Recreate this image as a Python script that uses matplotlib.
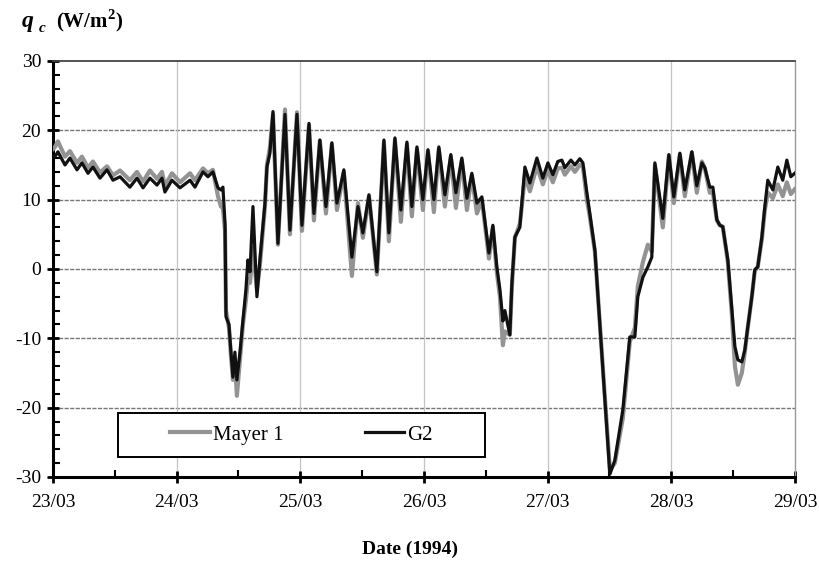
import matplotlib
matplotlib.use("Agg")
import matplotlib.pyplot as plt
from matplotlib.ticker import MultipleLocator
from matplotlib.patches import Rectangle
import numpy as np

plt.rcParams['font.family'] = ['Liberation Serif', 'DejaVu Serif']
plt.rcParams['axes.unicode_minus'] = False
plt.rcParams['mathtext.fontset'] = 'custom'
plt.rcParams['mathtext.rm'] = 'Liberation Serif'
plt.rcParams['mathtext.bf'] = 'Liberation Serif:bold'

# time in days since 23/03/1994 00:00
t = [0.000, 0.016, 0.040, 0.097, 0.137, 0.194, 0.234, 0.283, 0.323, 0.380,
     0.437, 0.485, 0.542, 0.622, 0.679, 0.728, 0.784, 0.841, 0.881, 0.905,
     0.962, 1.027, 1.108, 1.148, 1.213, 1.253, 1.293, 1.334, 1.358, 1.374,
     1.391, 1.399, 1.423, 1.439, 1.455, 1.471, 1.487, 1.512, 1.536, 1.560,
     1.576, 1.593, 1.617, 1.649, 1.673, 1.714, 1.730, 1.754, 1.779, 1.819,
     1.876, 1.916, 1.973, 2.013, 2.070, 2.110, 2.158, 2.207, 2.255, 2.296,
     2.352, 2.417, 2.466, 2.506, 2.555, 2.619, 2.676, 2.716, 2.765, 2.813,
     2.862, 2.902, 2.943, 2.991, 3.032, 3.080, 3.120, 3.169, 3.217, 3.258,
     3.306, 3.347, 3.387, 3.428, 3.468, 3.509, 3.525, 3.557, 3.589, 3.614,
     3.638, 3.654, 3.694, 3.711, 3.735, 3.775, 3.791, 3.816, 3.856, 3.913,
     3.961, 4.002, 4.042, 4.082, 4.115, 4.139, 4.188, 4.220, 4.260, 4.285,
     4.317, 4.341, 4.382, 4.503, 4.543, 4.608, 4.664, 4.705, 4.729, 4.770,
     4.810, 4.842, 4.867, 4.931, 4.980, 5.020, 5.069, 5.109, 5.166, 5.206,
     5.247, 5.271, 5.311, 5.336, 5.352, 5.368, 5.392, 5.416, 5.457, 5.489,
     5.514, 5.538, 5.570, 5.594, 5.618, 5.651, 5.675, 5.699, 5.732, 5.756,
     5.780, 5.821, 5.861, 5.901, 5.934, 5.966, 5.998]

g2 = [16.3, 16.2, 16.9, 15.0, 16.0, 14.3, 15.3, 13.8, 14.7, 13.1,
      14.3, 12.8, 13.3, 11.8, 13.1, 11.7, 13.1, 12.1, 13.1, 11.1,
      12.8, 11.7, 12.8, 11.8, 14.0, 13.3, 14.0, 11.7, 11.4, 11.8,
      6.6, -6.9, -8.0, -12.0, -15.6, -12.0, -16.0, -12.0, -7.4, -3.0,
      1.3, -0.4, 9.0, -4.0, 1.3, 9.5, 14.7, 16.7, 22.7, 3.7,
      22.3, 5.6, 22.3, 6.3, 21.0, 8.0, 18.6, 9.0, 18.2, 9.5,
      14.3, 1.7, 9.0, 5.2, 10.7, -0.4, 18.6, 5.2, 18.9, 8.5,
      18.3, 9.0, 17.6, 10.0, 17.2, 10.0, 17.6, 10.7, 16.5, 11.0,
      16.0, 10.2, 13.8, 9.5, 10.4, 4.6, 2.3, 6.3, 0.3, -3.0,
      -7.5, -6.0, -9.5, -2.0, 4.6, 6.0, 9.5, 14.7, 12.4, 16.0,
      13.1, 15.3, 13.6, 15.5, 15.7, 14.6, 15.7, 15.0, 15.9, 15.3,
      11.0, 8.0, 2.7, -29.6, -27.6, -20.3, -9.8, -9.8, -4.0, -1.2,
      0.3, 1.7, 15.3, 7.3, 16.5, 10.4, 16.7, 11.4, 16.9, 12.0,
      15.3, 14.6, 11.8, 11.8, 9.5, 7.1, 6.3, 6.1, 1.3, -5.7,
      -11.2, -13.1, -13.4, -11.7, -8.4, -4.0, -0.1, 0.3, 4.6, 9.0,
      12.8, 11.4, 14.7, 12.8, 15.7, 13.3, 13.8]

mayer1 = [17.3, 17.6, 18.4, 16.2, 17.0, 15.3, 16.2, 14.6, 15.5, 13.9,
          14.8, 13.5, 14.2, 12.8, 14.0, 12.6, 14.2, 13.0, 14.0, 12.0,
          13.8, 12.5, 13.8, 12.8, 14.5, 13.8, 14.3, 10.5, 9.0, 8.8,
          5.5, -6.0, -8.5, -12.5, -16.0, -13.0, -18.3, -13.0, -8.0, -4.5,
          -1.5, -2.0, 3.0, -3.0, 0.5, 9.0, 15.0, 17.5, 22.3, 3.5,
          23.0, 5.0, 22.6, 5.5, 20.7, 7.0, 18.5, 8.0, 18.0, 8.5,
          14.0, -1.0, 9.5, 4.5, 10.5, -0.8, 18.3, 4.0, 18.6, 6.8,
          18.0, 7.6, 17.3, 8.5, 17.0, 8.2, 17.3, 9.0, 16.2, 8.8,
          15.7, 8.5, 13.5, 8.0, 10.0, 4.0, 1.5, 6.0, -0.5, -4.0,
          -11.0, -9.0, -9.5, -2.5, 4.5, 6.5, 9.0, 13.5, 11.2, 14.8,
          12.2, 14.3, 12.5, 14.5, 14.6, 13.6, 14.8, 14.0, 15.0, 14.8,
          10.0, 7.5, 2.5, -29.0, -28.0, -21.5, -10.5, -8.5, -2.5, 1.0,
          3.5, 2.5, 15.0, 6.0, 16.3, 9.5, 16.5, 10.5, 16.8, 11.0,
          15.5, 14.5, 11.0, 11.0, 9.0, 7.0, 6.3, 6.1, 1.0, -6.5,
          -14.0, -16.7, -15.0, -12.0, -8.5, -4.0, -0.3, 0.3, 4.3, 8.5,
          11.0, 10.2, 12.2, 10.5, 12.5, 10.8, 11.5]

day_ticks = [0, 1, 2, 3, 4, 5, 6]
day_labels = ["23/03", "24/03", "25/03", "26/03", "27/03", "28/03", "29/03"]
y_ticks = [-30, -20, -10, 0, 10, 20, 30]

fig = plt.figure(figsize=(8.19, 5.65), dpi=100)
ax = fig.add_axes([0.0647, 0.1558, 0.906, 0.7363])

ax.plot(t, mayer1, color='#939393', lw=3.0, label='Mayer 1', zorder=3,
        solid_joinstyle='round')
ax.plot(t, g2, color='#111111', lw=2.3, label='G2', zorder=4,
        solid_joinstyle='round')

ax.set_xlim(0, 6)
ax.set_ylim(-30, 30)
ax.set_xticks(day_ticks)
ax.set_xticklabels(day_labels)
ax.set_yticks(y_ticks)
ax.xaxis.set_minor_locator(MultipleLocator(0.5))
ax.yaxis.set_minor_locator(MultipleLocator(2))

# grid
for yv in y_ticks[1:-1]:
    ax.axhline(yv, color='#777777', lw=1.0, ls=(0, (3, 1)), zorder=1)
for xv in day_ticks[1:-1]:
    ax.axvline(xv, color='#c4c4c4', lw=0.9, zorder=1)

ax.spines['left'].set_linewidth(2.2)
ax.spines['bottom'].set_linewidth(2.2)
ax.spines['top'].set_color('#444444')
ax.spines['top'].set_linewidth(1.3)
ax.spines['right'].set_color('#999999')
ax.spines['right'].set_linewidth(1.0)

ax.tick_params(which='major', direction='inout', length=9, width=2, labelsize=14, pad=4)
ax.tick_params(which='minor', direction='in', length=5, width=1.5)
ax.tick_params(axis='x', which='major', pad=8)
ax.tick_params(top=False, right=False, which='both')

# legend box
box = Rectangle((0.0876, 0.048), 0.494, 0.106, transform=ax.transAxes,
                facecolor='white', edgecolor='black', lw=1.4, zorder=5)
ax.add_patch(box)
leg = ax.legend(loc='center', bbox_to_anchor=(0.335, 0.101), ncol=2,
                frameon=False, fontsize=15, handlelength=1.9,
                handletextpad=0.15, columnspacing=3.9, borderaxespad=0)
leg.set_zorder(6)

fig.text(0.027, 0.952, "q", fontsize=17, fontweight='bold', style='italic')
fig.text(0.047, 0.944, "c", fontsize=11, fontweight='bold', style='italic')
fig.text(0.068, 0.952, r"(W/m$^{\mathbf{2}}$)", fontsize=15, fontweight='bold')
fig.text(0.5, 0.02, "Date (1994)", fontsize=14, fontweight='bold', ha='center')

fig.savefig("out.png", dpi=100)
